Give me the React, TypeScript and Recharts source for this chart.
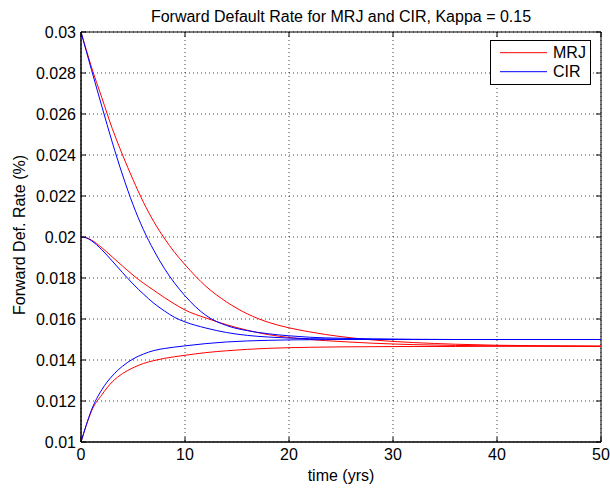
import React from 'react';
import { LineChart, Line, XAxis, YAxis, CartesianGrid, Legend, ReferenceArea, Label } from 'recharts';

// ---- data ----
const times = [0, 0.5, 1, 2, 3, 4, 5, 6, 7, 8, 9, 10, 12, 14, 16, 18, 20, 22, 25, 28, 32, 36, 40, 45, 50];

const mrjHigh = [0.03, 0.02914, 0.0283, 0.0268, 0.0253, 0.024, 0.0228, 0.0217, 0.02075, 0.01995, 0.01925, 0.01865, 0.0176, 0.01683, 0.01625, 0.01584, 0.01557, 0.01537, 0.01514, 0.01498, 0.01485, 0.01477, 0.01472, 0.01469, 0.01467];
const mrjMid = [0.02, 0.01997, 0.01985, 0.01948, 0.01903, 0.01858, 0.01814, 0.01775, 0.0174, 0.01705, 0.01673, 0.01644, 0.01605, 0.01572, 0.01545, 0.01524, 0.0151, 0.015, 0.0149, 0.01482, 0.01475, 0.01471, 0.01469, 0.01468, 0.01467];
const mrjLow = [0.01, 0.0108, 0.0115, 0.0123, 0.01293, 0.01334, 0.01362, 0.01383, 0.01397, 0.01408, 0.01416, 0.01423, 0.01436, 0.01445, 0.01452, 0.01457, 0.0146, 0.01462, 0.01464, 0.01465, 0.01466, 0.01466, 0.01467, 0.01467, 0.01467];

const cirHigh = [0.03, 0.02908, 0.02817, 0.02638, 0.02463, 0.02302, 0.02158, 0.02036, 0.01935, 0.01848, 0.01775, 0.01713, 0.01618, 0.01568, 0.01543, 0.01528, 0.01518, 0.01511, 0.01506, 0.01503, 0.01501, 0.015, 0.015, 0.015, 0.015];
const cirMid = [0.02, 0.01996, 0.01982, 0.01938, 0.01883, 0.01826, 0.01771, 0.01722, 0.01677, 0.0164, 0.01608, 0.01586, 0.01556, 0.01534, 0.0152, 0.01512, 0.01507, 0.01504, 0.01502, 0.01501, 0.015, 0.015, 0.015, 0.015, 0.015];
const cirLow = [0.01, 0.01082, 0.01155, 0.01255, 0.01322, 0.0137, 0.01405, 0.01429, 0.01446, 0.01456, 0.01463, 0.01469, 0.0148, 0.01488, 0.01493, 0.01496, 0.01498, 0.01499, 0.015, 0.015, 0.015, 0.015, 0.015, 0.015, 0.015];

const legendOrder = ['MRJ', 'CIR'];
const xTicks = [0, 10, 20, 30, 40, 50];
const yTicks = [0.01, 0.012, 0.014, 0.016, 0.018, 0.02, 0.022, 0.024, 0.026, 0.028, 0.03];

const titleText = 'Forward Default Rate for MRJ and CIR, Kappa = 0.15';
const xLabelText = 'time (yrs)';
const yLabelText = 'Forward Def. Rate (%)';

const data = times.map((t, i) => ({
  t,
  mrjHigh: mrjHigh[i],
  mrjMid: mrjMid[i],
  mrjLow: mrjLow[i],
  cirHigh: cirHigh[i],
  cirMid: cirMid[i],
  cirLow: cirLow[i],
}));

// ---- layout ----
const W = 610;
const H = 489;
const MARGIN = { top: 32, right: 9, left: 21, bottom: 17 };
const Y_AXIS_W = 60;
const X_AXIS_H = 30;
const PLOT_TOP = MARGIN.top;
const PLOT_BOTTOM = H - MARGIN.bottom - X_AXIS_H;
const PLOT_LEFT = MARGIN.left + Y_AXIS_W;
const PLOT_RIGHT = W - MARGIN.right;
const FONT = '"Liberation Sans", Arial, Helvetica, sans-serif';
const FS = 16;
const TICK = 5;

const XTick = (props: any) => {
  const { x, payload } = props;
  return (
    <g>
      <line x1={x} x2={x} y1={PLOT_BOTTOM} y2={PLOT_BOTTOM - TICK} stroke="#000" />
      <line x1={x} x2={x} y1={PLOT_TOP} y2={PLOT_TOP + TICK} stroke="#000" />
      <text x={x} y={PLOT_BOTTOM + 18} textAnchor="middle" fontFamily={FONT} fontSize={FS} fill="#000">
        {String(payload.value)}
      </text>
    </g>
  );
};

const YTick = (props: any) => {
  const { y, payload } = props;
  return (
    <g>
      <line x1={PLOT_LEFT} x2={PLOT_LEFT + TICK} y1={y} y2={y} stroke="#000" />
      <line x1={PLOT_RIGHT} x2={PLOT_RIGHT - TICK} y1={y} y2={y} stroke="#000" />
      <text x={PLOT_LEFT - 5} y={y} dy="0.35em" textAnchor="end" fontFamily={FONT} fontSize={FS} fill="#000">
        {String(payload.value)}
      </text>
    </g>
  );
};

const XLabel = (props: any) => {
  const vb = props.viewBox || {};
  return (
    <text x={vb.x + vb.width / 2} y={PLOT_BOTTOM + 39} textAnchor="middle" fontFamily={FONT} fontSize={FS} fill="#000">
      {xLabelText}
    </text>
  );
};

const YLabel = () => {
  const cx = 25;
  const cy = 235;
  return (
    <text x={cx} y={cy} transform={`rotate(-90, ${cx}, ${cy})`} textAnchor="middle" fontFamily={FONT} fontSize={FS} fill="#000">
      {yLabelText}
    </text>
  );
};

const LegendBox = (props: any) => {
  const seen = new Set<string>();
  const items = (props.payload || [])
    .filter((p: any) => {
      if (!p || p.type === 'none' || seen.has(p.value)) return false;
      seen.add(p.value);
      return true;
    })
    .sort((a: any, b: any) => legendOrder.indexOf(a.value) - legendOrder.indexOf(b.value));
  return (
    <svg width={101} height={45} style={{ display: 'block' }}>
      <rect x={0.5} y={0.5} width={100} height={44} fill="#fff" stroke="#000" />
      {items.map((it: any, i: number) => {
        const yy = 12.7 + 19 * i;
        return (
          <g key={it.value}>
            <line x1={10} x2={57} y1={yy} y2={yy} stroke={it.color} strokeWidth={1} />
            <text x={63} y={yy + 5.7} fontFamily={FONT} fontSize={FS} fill="#000">
              {it.value}
            </text>
          </g>
        );
      })}
    </svg>
  );
};

export default function App() {
  return (
    <div style={{ position: 'absolute', left: 0, top: 0, width: W, height: H, background: '#fff' }}>
      <div
        style={{
          position: 'absolute',
          left: PLOT_LEFT,
          width: PLOT_RIGHT - PLOT_LEFT,
          top: 8,
          textAlign: 'center',
          fontFamily: FONT,
          fontSize: FS,
          lineHeight: '18px',
          color: '#000',
          whiteSpace: 'nowrap',
          zIndex: 2,
        }}
      >
        {titleText}
      </div>
      <LineChart width={W} height={H} data={data} margin={MARGIN}>
        <CartesianGrid
          stroke="#000"
          strokeOpacity={0.75}
          strokeDasharray="1 3"
          horizontalValues={yTicks}
          verticalValues={xTicks}
        />
        <XAxis
          dataKey="t"
          type="number"
          domain={[0, 50]}
          ticks={xTicks}
          height={X_AXIS_H}
          tickSize={0}
          tickMargin={0}
          tickLine={false}
          axisLine={{ stroke: '#000' }}
          tick={<XTick />}
          interval={0}
        >
          <Label content={<XLabel />} />
        </XAxis>
        <YAxis
          type="number"
          domain={[0.01, 0.03]}
          ticks={yTicks}
          width={Y_AXIS_W}
          tickSize={0}
          tickMargin={0}
          tickLine={false}
          axisLine={{ stroke: '#000' }}
          tick={<YTick />}
          interval={0}
        >
          <Label content={<YLabel />} />
        </YAxis>
        <Line type="monotone" dataKey="mrjHigh" name="MRJ" stroke="#ff0000" strokeWidth={1} dot={false} activeDot={false} isAnimationActive={false} />
        <Line type="monotone" dataKey="mrjMid" name="MRJ" legendType="none" stroke="#ff0000" strokeWidth={1} dot={false} activeDot={false} isAnimationActive={false} />
        <Line type="monotone" dataKey="mrjLow" name="MRJ" legendType="none" stroke="#ff0000" strokeWidth={1} dot={false} activeDot={false} isAnimationActive={false} />
        <Line type="monotone" dataKey="cirHigh" name="CIR" stroke="#0000ff" strokeWidth={1} dot={false} activeDot={false} isAnimationActive={false} />
        <Line type="monotone" dataKey="cirMid" name="CIR" legendType="none" stroke="#0000ff" strokeWidth={1} dot={false} activeDot={false} isAnimationActive={false} />
        <Line type="monotone" dataKey="cirLow" name="CIR" legendType="none" stroke="#0000ff" strokeWidth={1} dot={false} activeDot={false} isAnimationActive={false} />
        <ReferenceArea x1={0} x2={50} y1={0.01} y2={0.03} fill="none" fillOpacity={0} stroke="#000" strokeWidth={1} ifOverflow="visible" />
        <Legend
          layout="vertical"
          align="center"
          verticalAlign="middle"
          content={<LegendBox />}
          wrapperStyle={{ position: 'absolute', left: 490, top: 40, width: 101, height: 45 }}
        />
      </LineChart>
    </div>
  );
}
